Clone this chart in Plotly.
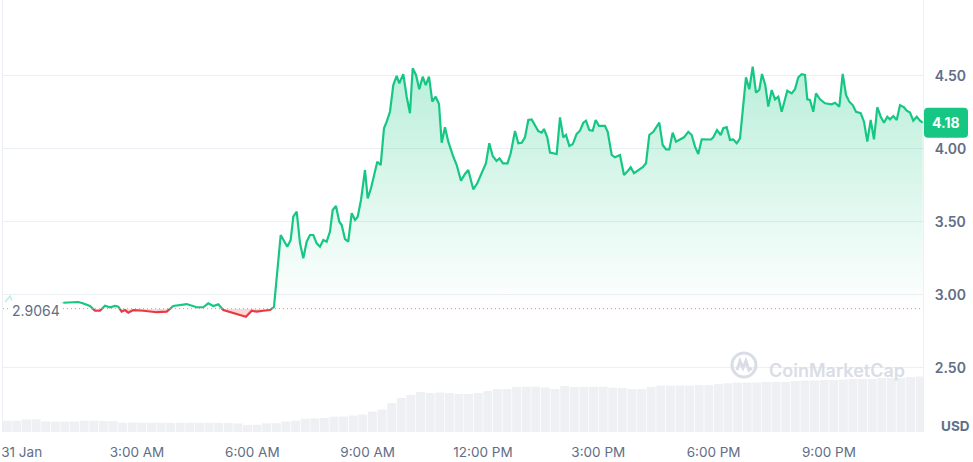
import plotly.graph_objects as go

# ---------------- data ----------------
open_price = 2.9064
last_price = 4.18

price_hours = [
    1.082, 1.472, 1.587, 1.777, 1.907, 2.037, 2.167, 2.297, 2.427, 2.513,
    2.601, 2.687, 2.773, 2.903, 3.163, 3.512, 3.772, 3.944, 4.292, 4.553,
    4.724, 4.854, 4.984, 5.114, 5.245, 5.505, 5.679, 5.835, 5.983, 6.113,
    6.285, 6.459, 6.563, 6.738, 6.909, 6.998, 7.066, 7.154, 7.240, 7.326,
    7.414, 7.500, 7.586, 7.674, 7.760, 7.846, 7.934, 8.020, 8.090, 8.176,
    8.262, 8.325, 8.411, 8.496, 8.585, 8.671, 8.741, 8.827, 8.931, 9.001,
    9.087, 9.173, 9.251, 9.339, 9.425, 9.495, 9.581, 9.667, 9.755, 9.823,
    9.927, 10.016, 10.101, 10.172, 10.258, 10.343, 10.432, 10.510, 10.596, 10.682,
    10.770, 10.856, 10.926, 11.012, 11.098, 11.228, 11.316, 11.428, 11.532, 11.618,
    11.748, 11.852, 11.967, 12.078, 12.164, 12.253, 12.352, 12.430, 12.521, 12.638,
    12.721, 12.833, 12.919, 13.007, 13.093, 13.179, 13.267, 13.353, 13.439, 13.528,
    13.587, 13.673, 13.744, 13.918, 14.004, 14.089, 14.160, 14.246, 14.334, 14.438,
    14.524, 14.610, 14.680, 14.766, 14.854, 14.932, 15.018, 15.174, 15.245, 15.349,
    15.434, 15.564, 15.669, 15.754, 15.843, 15.929, 16.041, 16.155, 16.241, 16.327,
    16.431, 16.519, 16.587, 16.675, 16.761, 16.847, 16.935, 17.021, 17.126, 17.229,
    17.341, 17.430, 17.516, 17.601, 17.690, 17.932, 17.992, 18.088, 18.184, 18.252,
    18.340, 18.426, 18.512, 18.600, 18.686, 18.842, 18.928, 19.017, 19.102, 19.188,
    19.259, 19.344, 19.422, 19.511, 19.597, 19.683, 19.771, 19.917, 20.031, 20.117,
    20.203, 20.291, 20.377, 20.437, 20.507, 20.593, 20.663, 20.768, 20.898, 21.072,
    21.158, 21.270, 21.358, 21.444, 21.530, 21.618, 21.704, 21.826, 21.912, 21.998,
    22.086, 22.172, 22.258, 22.347, 22.432, 22.518, 22.589, 22.674, 22.763, 22.849,
    22.953, 23.023, 23.109, 23.194, 23.283, 23.369, 23.439,
]
price_values = [
    2.947, 2.952, 2.943, 2.925, 2.892, 2.892, 2.927, 2.916, 2.925, 2.920,
    2.886, 2.897, 2.879, 2.897, 2.892, 2.882, 2.886, 2.925, 2.938, 2.916,
    2.916, 2.943, 2.925, 2.936, 2.897, 2.879, 2.863, 2.851, 2.892, 2.886,
    2.892, 2.897, 2.918, 3.411, 3.331, 3.377, 3.536, 3.571, 3.356, 3.251,
    3.365, 3.411, 3.411, 3.354, 3.331, 3.377, 3.365, 3.434, 3.582, 3.610,
    3.502, 3.479, 3.382, 3.365, 3.560, 3.514, 3.536, 3.651, 3.856, 3.662,
    3.731, 3.834, 3.913, 3.890, 4.142, 4.187, 4.255, 4.438, 4.500, 4.450,
    4.512, 4.358, 4.245, 4.553, 4.507, 4.409, 4.495, 4.438, 4.495, 4.324,
    4.358, 4.308, 4.043, 4.149, 4.050, 3.947, 3.890, 3.783, 3.829, 3.856,
    3.724, 3.765, 3.834, 3.902, 4.039, 3.952, 3.918, 3.936, 3.902, 3.902,
    3.971, 4.123, 4.039, 4.043, 4.080, 4.199, 4.203, 4.164, 4.123, 4.112,
    4.137, 4.080, 3.975, 3.966, 4.217, 4.080, 4.096, 4.021, 4.032, 4.103,
    4.125, 4.180, 4.194, 4.130, 4.125, 4.199, 4.158, 4.158, 4.118, 3.959,
    3.943, 3.959, 3.822, 3.845, 3.875, 3.834, 3.856, 3.875, 3.902, 4.096,
    4.118, 4.149, 4.180, 4.027, 3.998, 3.998, 4.112, 4.050, 4.066, 4.080,
    4.118, 4.096, 4.016, 3.966, 4.066, 4.065, 4.080, 4.130, 4.096, 4.142,
    4.149, 4.062, 4.066, 4.039, 4.073, 4.491, 4.409, 4.564, 4.386, 4.404,
    4.514, 4.438, 4.290, 4.404, 4.340, 4.358, 4.255, 4.399, 4.381, 4.409,
    4.491, 4.512, 4.507, 4.340, 4.336, 4.255, 4.381, 4.340, 4.313, 4.306,
    4.317, 4.290, 4.514, 4.370, 4.324, 4.301, 4.255, 4.245, 4.187, 4.050,
    4.199, 4.066, 4.286, 4.221, 4.180, 4.221, 4.203, 4.226, 4.199, 4.301,
    4.286, 4.262, 4.249, 4.194, 4.221, 4.194, 4.180,
]

# faint leading segment (before the main window)
prelude_hours = [-0.43, -0.30, -0.23, -0.04, 0.48, 1.082]
prelude_values = [2.952, 2.993, 2.945, 2.938, 2.945, 2.947]

# volume, 15-minute bins (arbitrary units)
volume_values = [
    11.3, 11.3, 12.5, 12.7, 10.5, 10.3, 10.3, 10.5, 11.3, 11.3,
    11.0, 10.8, 9.3, 9.5, 9.3, 9.3, 9.3, 9.2, 9.3, 9.3,
    9.3, 9.3, 9.2, 9.0, 8.5, 7.0, 7.2, 8.7, 8.8, 10.5,
    11.3, 13.2, 13.7, 14.0, 15.3, 15.5, 16.5, 17.5, 20.5, 22.5,
    29.0, 34.0, 37.0, 40.0, 39.0, 39.5, 39.0, 38.0, 38.0, 39.0,
    41.0, 43.0, 43.0, 45.0, 45.3, 45.3, 44.5, 43.0, 46.0, 45.0,
    45.0, 45.2, 45.3, 44.3, 44.0, 43.0, 43.0, 45.0, 46.5, 46.5,
    46.5, 46.5, 47.0, 47.0, 48.0, 48.7, 49.3, 49.5, 49.5, 50.0,
    50.0, 50.0, 51.0, 51.5, 51.5, 52.0, 52.0, 52.5, 53.0, 53.0,
    53.0, 54.0, 54.0, 54.0, 55.0, 55.5,
]
volume_hours = [-0.375 + 0.25 * i for i in range(len(volume_values))]

x_tick_vals = [0, 3, 6, 9, 12, 15, 18, 21]
x_tick_text = ["31 Jan", "3:00 AM", "6:00 AM", "9:00 AM", "12:00 PM",
               "3:00 PM", "6:00 PM", "9:00 PM"]
y_tick_vals = [2.5, 3.0, 3.5, 4.0, 4.5]
y_tick_text = ["2.50", "3.00", "3.50", "4.00", "4.50"]

# ---------------- styling ----------------
GREEN = "#16c784"
RED = "#ea3943"
GREY_TXT = "#616E85"
GRID = "#eceff3"
FONT = "Inter, Roboto, sans-serif"

X_RANGE = [-0.486, 23.447]
Y_RANGE = [2.0616, 5.0205]
VOL_RANGE = [0, 432]
base_frac = (open_price - Y_RANGE[0]) / (Y_RANGE[1] - Y_RANGE[0])

fig = go.Figure()

# volume bars (bottom layer)
fig.add_trace(go.Bar(
    x=volume_hours, y=volume_values, xaxis="x", yaxis="y",
    marker=dict(color="#eef0f4", line=dict(width=0)),
    hoverinfo="skip", showlegend=False,
))

# reference (open) dotted line
fig.add_trace(go.Scatter(
    x=X_RANGE, y=[open_price, open_price], xaxis="x", yaxis="y2",
    mode="lines", line=dict(color="#a6b0c3", width=1, dash="1px,3px"),
    hoverinfo="skip", showlegend=False,
))

# faint prelude
fig.add_trace(go.Scatter(
    x=prelude_hours, y=prelude_values, xaxis="x", yaxis="y2",
    mode="lines", line=dict(color="rgba(22,199,132,0.28)", width=1.5),
    hoverinfo="skip", showlegend=False,
))

# green part (clipped above the open price)
fig.add_trace(go.Scatter(
    x=price_hours, y=price_values, xaxis="x", yaxis="y3",
    mode="lines", line=dict(color=GREEN, width=2.2),
    fill="tozeroy",
    fillgradient=dict(
        type="vertical",
        colorscale=[[0, "rgba(22,199,132,0.0)"], [1, "rgba(22,199,132,0.30)"]],
        start=open_price, stop=max(price_values),
    ),
    hoverinfo="skip", showlegend=False,
))

# red part (clipped below the open price)
fig.add_trace(go.Scatter(
    x=[price_hours[0], price_hours[-1]], y=[open_price, open_price],
    xaxis="x", yaxis="y4", mode="lines", line=dict(width=0, color="rgba(0,0,0,0)"),
    hoverinfo="skip", showlegend=False,
))
fig.add_trace(go.Scatter(
    x=price_hours, y=price_values, xaxis="x", yaxis="y4",
    mode="lines", line=dict(color=RED, width=2.2),
    fill="tonexty", fillcolor="rgba(234,57,67,0.20)",
    hoverinfo="skip", showlegend=False,
))

badge_path = ("M 5,15 L 41,15 Q 45,15 45,11 L 45,-11 Q 45,-15 41,-15 "
              "L 5,-15 Q 1,-15 1,-11 L 1,11 Q 1,15 5,15 Z")

fig.update_layout(
    width=973, height=462,
    margin=dict(l=3, r=50, t=0, b=30),
    paper_bgcolor="white", plot_bgcolor="rgba(0,0,0,0)",
    font=dict(family=FONT, color=GREY_TXT),
    showlegend=False, bargap=0.07, hovermode=False,
    xaxis=dict(
        range=X_RANGE, tickvals=x_tick_vals, ticktext=x_tick_text,
        showgrid=False, zeroline=False, showline=False,
        ticks="", ticklabelstandoff=10,
        tickfont=dict(size=13.5, color=GREY_TXT, family=FONT),
        fixedrange=True,
    ),
    yaxis=dict(range=VOL_RANGE, visible=False, fixedrange=True),
    yaxis2=dict(
        range=Y_RANGE, overlaying="y", side="right",
        tickvals=y_tick_vals, ticktext=y_tick_text,
        showgrid=True, gridcolor=GRID, gridwidth=1, zeroline=False,
        showline=True, linecolor=GRID, linewidth=1, mirror=True,
        ticks="", ticklabelstandoff=8,
        tickfont=dict(size=14, color=GREY_TXT, family=FONT, weight=600),
        fixedrange=True,
    ),
    yaxis3=dict(range=[open_price, Y_RANGE[1]], domain=[base_frac, 1],
                anchor="x", visible=False, fixedrange=True),
    yaxis4=dict(range=[Y_RANGE[0], open_price], domain=[0, base_frac],
                anchor="x", visible=False, fixedrange=True),
    shapes=[
        # price badge
        dict(type="path", xref="paper", yref="y2",
             xsizemode="pixel", ysizemode="pixel",
             xanchor=1, yanchor=last_price,
             path=badge_path, fillcolor=GREEN, line=dict(width=0),
             layer="above"),
        # watermark logo circle
        dict(type="circle", xref="paper", yref="paper",
             xsizemode="pixel", ysizemode="pixel",
             xanchor=0.8054, yanchor=0.155,
             x0=-12, x1=12, y0=-12, y1=12,
             line=dict(color="#d9dde5", width=3), layer="above"),
        dict(type="path", xref="paper", yref="paper",
             xsizemode="pixel", ysizemode="pixel",
             xanchor=0.8054, yanchor=0.155,
             path="M -7,-5 L -4,4 L -1,-3 L 2,4 L 5,-5 L 8,-3",
             line=dict(color="#d9dde5", width=3), layer="above"),
    ],
    annotations=[
        dict(text="<b>" + f"{last_price:.2f}" + "</b>", xref="paper", yref="y2",
             x=1, y=last_price, xanchor="center", yanchor="middle", xshift=23,
             showarrow=False, font=dict(size=14, color="white", family=FONT)),
        dict(text=f"{open_price:.4f}", xref="paper", yref="y2",
             x=0.0076, y=open_price, xanchor="left", yanchor="middle", yshift=-2,
             showarrow=False, bgcolor="white", borderpad=1,
             font=dict(size=14, color=GREY_TXT, family=FONT)),
        dict(text="USD", xref="paper", yref="paper",
             x=1, y=0.014, xanchor="left", yanchor="middle", xshift=16,
             showarrow=False,
             font=dict(size=13.5, color=GREY_TXT, family=FONT, weight=700)),
        dict(text="CoinMarketCap", xref="paper", yref="paper",
             x=0.906, y=0.143, xanchor="center", yanchor="middle",
             showarrow=False,
             font=dict(size=18, color="#d9dde5", family=FONT, weight=600)),
    ],
)

fig.write_html(
    "out.html",
    config={"displayModeBar": False},
    post_script="document.body.style.margin='0';document.body.style.overflow='hidden';",
)
